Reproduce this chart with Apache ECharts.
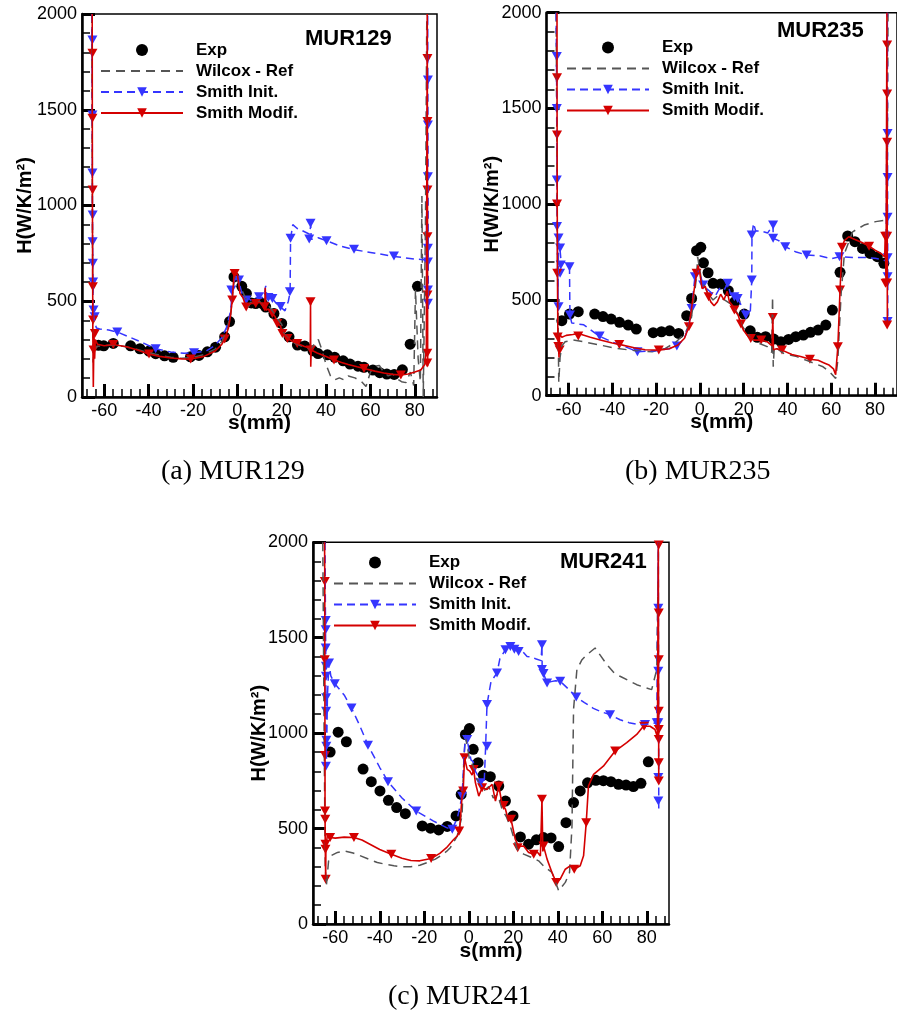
<!DOCTYPE html>
<html><head><meta charset="utf-8">
<script src="https://cdn.jsdelivr.net/npm/echarts@6/dist/echarts.min.js"></script>
<style>html,body{margin:0;padding:0;background:#fff}#c{width:897px;height:1018px}</style>
</head><body><div id="c"></div><script>
// ---------- tick labels ----------
const xMajorTicks = [-60,-40,-20,0,20,40,60,80];
const xMinorTicks = [-68,-64,-60,-56,-52,-48,-44,-40,-36,-32,-28,-24,-20,-16,-12,-8,-4,0,4,8,12,16,20,24,28,32,36,40,44,48,52,56,60,64,68,72,76,80,84,88];
const seriesNames = ['Exp','Wilcox - Ref','Smith Init.','Smith Modif.'];
const panelTitles = ['MUR129','MUR235','MUR241'];
const captions = ['(a) MUR129','(b) MUR235','(c) MUR241'];

// ---------- (a) MUR129 ----------
const a_exp = [[-62.6,270],[-60.2,267],[-55.9,280],[-48.1,267],[-43.9,252],[-39.8,240],[-36.8,226],[-32.8,215],[-28.9,207],[-21.1,210],[-17.3,217],[-13.5,236],[-9.8,260],[-5.7,314],[-3.5,394],[-1.5,627],[2.0,578],[4.1,540],[6.3,491],[8.3,488],[11.3,488],[12.8,470],[16.5,436],[20.0,384],[23.3,314],[27.1,271],[30.4,266],[34.1,241],[36.4,227],[40.6,220],[43.9,207],[47.7,189],[50.8,172],[54.4,161],[57.1,155],[61.1,141],[64.2,127],[67.4,120],[70.7,118],[74.4,142],[77.9,276],[81.2,578]];
const a_wilcox = [[-65.6,2000],[-65.3,900],[-65.0,180],[-64.5,250],[-63,265],[-60,268],[-56,272],[-50,262],[-45,248],[-40,232],[-35,218],[-30,207],[-25,202],[-20,207],[-15,222],[-10,250],[-7,290],[-5,340],[-3,430],[-2,550],[-1,640],[0,630],[1,575],[2,560],[4,510],[5,470],[6,495],[8,490],[10,500],[12,470],[14,480],[16,445],[18,410],[20,380],[21,330],[23,305],[26,280],[30,260],[33,250],[35,280],[36.5,300],[38,250],[40,170],[42,110],[44,90],[46,100],[48,90],[50,110],[53,100],[56,80],[58,55],[60,130],[62,160],[64,165],[66,130],[68,110],[70,120],[72,95],[74,80],[76,75],[78,130],[79.5,60],[80.3,560],[81.5,200],[82.5,80],[83.2,1050],[83.8,0],[84.8,900],[85.4,2000]];
const a_init = [[-65.5,2000],[-65.3,1000],[-65.0,450],[-64.5,400],[-63.5,360],[-62,355],[-58,350],[-54,339],[-48,310],[-42,280],[-37,252],[-30,235],[-24,228],[-19.5,231],[-14,240],[-10,270],[-7,310],[-5,360],[-3,450],[-2.3,549],[-1,618],[0.5,610],[2,545],[3,520],[4.5,523],[6,505],[8,520],[10.5,515],[12,525],[12.8,580],[13.5,505],[15.8,514],[17.5,490],[19.5,470],[21.5,450],[23,500],[23.8,549],[24,826],[25,900],[27,880],[29,870],[32.6,850],[33.1,900],[33.3,823],[36.4,832],[40.6,814],[46,790],[52.6,769],[60,755],[70.7,734],[80,720],[84.2,717],[85.2,700],[85.8,2000],[86.1,460]];
const a_initMarks = [[-65.3,1864],[-65.3,1473],[-65.3,1170],[-65.2,950],[-65.2,811],[-65.1,699],[-65.0,600],[-64.8,454],[-64.3,419],[-54.1,339],[-36.8,252],[-19.5,231],[-2.7,559],[0.75,611],[4,506],[9.8,524],[14,520],[15.8,515],[19.5,472],[23.7,550],[24,829],[33,907],[32.4,825],[40.2,816],[52.6,771],[70.6,736],[85.9,1655],[85.9,1420],[85.9,1150],[85.9,777],[85.9,705],[85.9,559],[85.9,490]];
const a_modif = [[-65.4,2000],[-65.3,1000],[-65.1,300],[-64.9,52],[-64.6,330],[-64.3,200],[-64,300],[-63,275],[-60,268],[-56,274],[-50,262],[-45,245],[-40,225],[-35,212],[-30,204],[-25,199],[-21,198],[-15,212],[-10,240],[-7,275],[-5.7,302],[-4,360],[-3,430],[-2.3,505],[-1.5,635],[0,645],[1.2,540],[2.5,520],[4,470],[5,480],[6.5,490],[8.3,488],[10,495],[11.3,479],[12.3,460],[12.6,570],[12.9,453],[14,460],[15.8,436],[17,420],[18,384],[19.5,370],[20.3,332],[22.6,306],[25,290],[27,280],[30,265],[32.9,255],[33.0,497],[33.1,158],[33.3,245],[36,230],[40,212],[43.6,193],[47,180],[50,170],[54,158],[57.1,149],[62,135],[66,125],[70,118],[73.7,115],[77,120],[80,130],[82.7,141],[84.5,170],[85.2,250],[85.6,2000],[85.8,160]];
const a_modifMarks = [[-65.3,1795],[-65.3,1455],[-65.2,1081],[-65.1,576],[-65.0,402],[-64.8,245],[-64.2,332],[-55.9,274],[-39.8,224],[-21,198],[-5.7,303],[-2.3,506],[-1.2,645],[4,470],[8.3,488],[12.3,471],[15.8,436],[18,384],[20.3,332],[22.6,306],[27,280],[33.0,497],[33.1,245],[43.6,193],[57.1,149],[73.7,115],[85.7,1768],[85.7,1438],[85.7,1081],[85.7,837],[85.7,533],[85.6,229],[85.6,177]];

// ---------- (b) MUR235 ----------
const b_exp = [[-63,392],[-59.5,426],[-55.5,439],[-48,426],[-44.2,413],[-40.5,400],[-36.7,383],[-32.7,369],[-29,348],[-21.3,329],[-17.5,334],[-13.8,339],[-9.7,325],[-6,418],[-3.75,508],[-1.5,757],[0.45,775],[1.65,694],[3.75,642],[6,587],[9.45,583],[13,548],[16,491],[20.25,426],[23,339],[26.25,305],[30,308],[33.75,296],[37,282],[40.5,294],[43.8,308],[47.25,317],[50.5,331],[54,343],[57.5,369],[60.5,447],[64,644],[67.5,834],[70.8,804],[74.25,769],[77.7,743],[81,726],[84,691]];
const b_wilcox = [[-65.6,2000],[-65.0,700],[-64.4,70],[-63.8,200],[-63,260],[-61.5,282],[-57.75,291],[-53.2,282],[-45.75,265],[-38.25,247],[-29.25,235],[-21.75,230],[-15.75,247],[-11.25,277],[-6.75,325],[-4,395],[-3,482],[-1.5,621],[-1,726],[-0.5,690],[0.75,604],[3.75,534],[6,500],[8,520],[11.25,500],[14,480],[17.25,430],[19.5,360],[23.25,299],[26.25,277],[30.75,256],[32.8,225],[33.2,517],[33.5,151],[34,256],[38.25,221],[44.25,204],[50.25,178],[56.25,151],[59.25,125],[62,90],[63,186],[64.5,534],[66,743],[69.75,856],[75,891],[80.25,909],[84.75,917],[85.5,970],[85.9,2000]];
const b_init = [[-65.6,2000],[-65.3,1500],[-65.1,900],[-64.8,470],[-64.5,800],[-63.8,760],[-63.2,682],[-62,700],[-59.5,674],[-59.3,421],[-58.5,380],[-53,370],[-46,312],[-40,280],[-35,260],[-28.5,230],[-20,235],[-14,245],[-10.5,259],[-7,300],[-5,370],[-3.75,456],[-2.25,621],[-1,660],[0,640],[1.5,578],[3,560],[5,540],[7,520],[9,560],[11,550],[12.75,587],[14,530],[15.75,517],[17.25,508],[19,470],[21,421],[23,430],[23.7,604],[23.8,839],[24.5,900],[25.5,860],[28,860],[31,850],[33.4,891],[33.5,822],[36,810],[39,778],[44,750],[48.75,735],[55,730],[60,715],[63.75,726],[70,722],[75,722],[80,718],[85,705],[85.6,2000],[85.8,387]];
const b_initMarks = [[-65.3,1771],[-65.3,1500],[-65.3,1126],[-65.2,883],[-64.5,823],[-63.8,771],[-63.5,682],[-63.8,639],[-64.5,465],[-59.5,674],[-59.3,421],[-45.75,312],[-28.5,230],[-10.5,259],[-3.75,456],[-2.25,621],[1.5,578],[12.75,587],[15.75,517],[17.25,508],[21,421],[23.7,604],[23.7,839],[33.45,891],[33.45,822],[39,778],[48.75,735],[63.75,726],[85.7,1369],[85.7,1140],[85.7,932],[85.7,720],[85.7,621],[85.7,387]];
const b_modif = [[-65.2,2000],[-65.2,1660],[-65.1,1000],[-65,639],[-64.8,307],[-64.5,257],[-64.3,200],[-64,320],[-63,305],[-61,315],[-58,320],[-55.5,325],[-50,305],[-45,290],[-40,275],[-36.75,268],[-30,250],[-25,240],[-18.75,238],[-14,245],[-10,265],[-7,300],[-5,360],[-3.5,480],[-2.5,560],[-1.5,639],[-0.8,680],[0,640],[1,560],[2.5,570],[4,517],[5,490],[6.5,470],[8,490],[9.5,530],[11,500],[12.5,545],[13.5,490],[15,470],[15.75,447],[17.5,420],[18.75,374],[20,340],[22,310],[23.25,299],[25,290],[28,291],[31,280],[33,260],[33.3,409],[33.6,240],[35,245],[37.5,238],[42,215],[46,205],[50.25,190],[54,185],[57,170],[59,160],[61,140],[62,110],[63,256],[64,552],[64.9,775],[66,810],[68,830],[70,820],[74,800],[77.25,781],[80,760],[83,740],[84.4,725],[84.6,832],[85.0,600],[85.4,2000],[85.6,369]];
const b_modifMarks = [[-65.2,1660],[-65.2,1361],[-65.2,1001],[-65.1,639],[-64.9,307],[-64.6,257],[-64,238],[-55.5,312],[-36.75,268],[-18.75,238],[-5,360],[-1.5,639],[4,517],[15.75,447],[18.75,374],[23.25,299],[28,291],[33.3,409],[37.5,238],[50.25,190],[63,256],[64,552],[64.9,775],[77.25,781],[84.6,832],[84.75,587],[85.5,1831],[85.5,1576],[85.5,1324],[85.5,832],[85.5,588],[85.5,369]];

// ---------- (c) MUR241 ----------
const c_exp = [[-62.3,901],[-58.7,1005],[-55,955],[-47.5,812],[-43.8,746],[-39.9,697],[-36.1,648],[-32.4,610],[-28.5,578],[-20.9,514],[-17.2,502],[-13.5,493],[-9.7,511],[-5.7,566],[-3.4,679],[-1.5,993],[0.3,1024],[2,915],[4.2,845],[6.5,780],[9.7,772],[13.5,723],[16.5,644],[19.9,566],[23.2,456],[26.9,418],[30.4,441],[33.6,453],[37,451],[40.4,406],[43.7,531],[47.1,636],[50.1,697],[53.4,740],[57.1,753],[60.5,751],[63.9,746],[67.3,732],[70.7,728],[74,720],[77.4,737],[80.7,850]];
const c_wilcox = [[-65.6,2000],[-65,1000],[-64.5,300],[-64,200],[-63,330],[-62,357],[-59,375],[-56,383],[-52,372],[-48.6,357],[-45,340],[-41.1,322],[-37,312],[-33.6,305],[-30,300],[-26.1,300],[-22,308],[-18.7,322],[-15,340],[-12.7,357],[-10,380],[-8.2,401],[-5.2,461],[-3,566],[-2.2,862],[-1.5,984],[-0.5,920],[0.5,850],[2,830],[3,770],[5,740],[7,700],[9,720],[11,660],[13,680],[15,600],[17,560],[19,500],[21.7,392],[24.7,366],[28,350],[31.4,331],[34,300],[37.4,270],[39,220],[40.4,174],[43.4,218],[45.3,270],[46.4,514],[47.1,1124],[48.6,1333],[50.9,1385],[53,1410],[56.8,1446],[59,1410],[62.1,1359],[65,1320],[68,1298],[72,1275],[75.5,1254],[79,1240],[82.2,1228],[84.5,1333],[85.3,2000]];
const c_init = [[-64.6,2000],[-64.4,1600],[-64.3,1450],[-64.2,1200],[-64.1,900],[-64.0,820],[-63.5,1200],[-62.8,1368],[-62,1300],[-60.2,1259],[-56,1200],[-52.7,1132],[-49,1040],[-45.3,937],[-40,820],[-36.3,746],[-30,660],[-23.6,592],[-16,540],[-10,505],[-7.4,496],[-5,560],[-3,670],[-2,900],[-1.5,990],[-0.7,967],[0,920],[1,860],[2,850],[3,800],[4,780],[5.2,740],[6,720],[7,760],[7.6,932],[8.2,1150],[10,1270],[12.7,1315],[14,1390],[16.5,1437],[18.7,1454],[20.5,1440],[22.4,1428],[24,1430],[26.2,1402],[28,1400],[30,1390],[32.5,1380],[32.9,1463],[33,1333],[33.6,1312],[35.2,1263],[37,1270],[39,1275],[41.1,1272],[44,1240],[48.3,1190],[52,1160],[56,1130],[60,1110],[63.5,1097],[68,1070],[72,1055],[76,1045],[79.2,1045],[84.5,1054],[85.2,2000],[85.4,600]];
const c_initMarks = [[-64.3,1590],[-64.3,1542],[-64.3,1446],[-64.2,1350],[-64.2,1298],[-64.1,1185],[-64.1,1115],[-64,963],[-64,932],[-64.2,827],[-62.8,1368],[-60.2,1259],[-52.7,1132],[-45.3,937],[-36.3,746],[-23.6,592],[-7.4,496],[-3,670],[-0.7,967],[5.2,740],[8.2,932],[8.2,1150],[12.7,1315],[16.5,1437],[18.7,1454],[20.5,1440],[22.4,1428],[32.9,1463],[32.9,1333],[33.6,1312],[35.2,1263],[41.1,1272],[48.3,1190],[63.5,1097],[79.2,1045],[84.5,1054],[85.2,1655],[85.2,1324],[85.2,1054],[85.2,767],[85.2,644]];
const c_modif = [[-64.8,2000],[-64.7,1794],[-64.7,1385],[-64.6,883],[-64.6,592],[-64.5,418],[-64.3,235],[-64.2,400],[-63.5,470],[-62.3,453],[-60,450],[-56,455],[-51.6,453],[-48,440],[-44,415],[-40,390],[-34.8,366],[-30,345],[-26,333],[-22,331],[-16.9,343],[-13,370],[-10,400],[-7,440],[-5.2,461],[-4.2,482],[-3,670],[-2.5,697],[-1.9,871],[-1.5,880],[-0.7,810],[0.45,801],[1.5,780],[2.2,810],[3,740],[4.5,670],[6,714],[8.2,705],[10.5,732],[12,644],[13.5,723],[15,627],[16.5,601],[17.9,540],[19,549],[20.9,444],[22.4,406],[24.7,409],[26.9,375],[29.2,366],[30.7,378],[32.2,357],[32.9,653],[33.3,380],[33.6,409],[35.2,340],[37.4,270],[39.3,218],[41.1,235],[43.4,287],[45.6,305],[47.4,287],[50.1,305],[51.6,357],[52.8,531],[53.8,723],[56.1,784],[60.5,827],[65.8,906],[71,950],[75.5,993],[78.5,1036],[81.5,1036],[83.7,1019],[84.8,980],[85.2,2000],[85.4,740]];
const c_modifMarks = [[-64.7,1794],[-64.7,1385],[-64.6,883],[-64.6,592],[-64.5,549],[-64.4,418],[-64.4,392],[-64.3,235],[-62.3,453],[-51.6,453],[-34.8,366],[-16.9,343],[-4.3,487],[-2.5,697],[-1.9,871],[2.2,810],[6,714],[13.5,723],[15.7,621],[19,549],[22,400],[29.2,366],[32.9,653],[33.6,409],[39.3,218],[47.4,287],[52.8,531],[65.8,906],[78.8,1036],[85.4,1986],[85.4,1629],[85.4,1385],[85.4,1115],[85.4,1019],[85.4,967],[85.4,845],[85.4,749]];

// ---------- build ----------
const FONT = "'Liberation Sans', Arial, Helvetica, sans-serif";
const TRI = 'path://M0,0L10,0L5,9Z';
const RED = '#d40000', BLUE = '#3535ff', GREY = '#555555';

const panelData = [
  [a_exp, a_wilcox, a_init, a_initMarks, a_modif, a_modifMarks],
  [b_exp, b_wilcox, b_init, b_initMarks, b_modif, b_modifMarks],
  [c_exp, c_wilcox, c_init, c_initMarks, c_modif, c_modifMarks]
];
const layout = [
  {left:82, top:14, width:355, height:383, yGap:47, xGap:16, legL:100, legT:41.5, titL:305, titT:28, capL:161, capT:458},
  {left:546.5, top:12.7, width:355.5, height:383, yGap:44.5, xGap:16, legL:566, legT:39, titL:777, titT:20, capL:625, capT:458},
  {left:313, top:542.3, width:356, height:381.7, yGap:44, xGap:17, legL:333, legT:554, titL:560, titT:551, capL:388, capT:983}
];

const grid = [], xAxis = [], yAxis = [], series = [], legend = [], title = [];
layout.forEach((p, i) => {
  grid.push({left:p.left, top:p.top, width:p.width, height:p.height, show:true, borderColor:'#000', borderWidth:1.5, backgroundColor:'transparent'});
  xAxis.push({type:'value', gridIndex:i, min:-70, max:90, position:'bottom',
    name:'s(mm)', nameLocation:'middle', nameGap:p.xGap, nameMoveOverlap:false,
    nameTextStyle:{fontFamily:FONT, fontWeight:'bold', fontSize:21, color:'#000'},
    axisLine:{show:true, onZero:false, lineStyle:{color:'#000', width:2.5}},
    axisTick:{show:true, inside:true, length:13, customValues:xMajorTicks, lineStyle:{color:'#000', width:3}},
    axisLabel:{show:true, customValues:xMajorTicks, margin:5, fontFamily:FONT, fontSize:18, color:'#000', formatter:v => String(v)},
    splitLine:{show:false}});
  xAxis.push({type:'value', gridIndex:i, min:-70, max:90, position:'bottom',
    axisLine:{show:false, onZero:false},
    axisTick:{show:true, inside:true, length:8, customValues:xMinorTicks, lineStyle:{color:'#000', width:1.5}},
    axisLabel:{show:false}, splitLine:{show:false}});
  yAxis.push({type:'value', gridIndex:i, min:0, max:2000, interval:500,
    name:'H(W/K/m²)', nameLocation:'middle', nameGap:p.yGap, nameRotate:90, nameMoveOverlap:false,
    nameTextStyle:{fontFamily:FONT, fontWeight:'bold', fontSize:20, color:'#000'},
    axisLine:{show:true, onZero:false, lineStyle:{color:'#000', width:2.5}},
    axisTick:{show:true, inside:true, length:13, lineStyle:{color:'#000', width:3}},
    minorTick:{show:true, splitNumber:5, length:8, lineStyle:{color:'#000', width:1.5}},
    axisLabel:{margin:5, fontFamily:FONT, fontSize:18, color:'#000', formatter:v => String(v)},
    splitLine:{show:false}, minorSplitLine:{show:false}});

  const d = panelData[i];
  const xi = 2*i, yi = i;
  series.push({type:'scatter', name:seriesNames[0], xAxisIndex:xi, yAxisIndex:yi, data:d[0],
    symbol:'circle', symbolSize:11, itemStyle:{color:'#000', opacity:1}, silent:true});
  series.push({type:'line', name:seriesNames[1], xAxisIndex:xi, yAxisIndex:yi, data:d[1],
    showSymbol:false, symbol:'circle', lineStyle:{color:GREY, width:1.5, type:[9,6]}, itemStyle:{color:GREY}, silent:true});
  series.push({type:'line', name:seriesNames[2], xAxisIndex:xi, yAxisIndex:yi, data:d[2],
    showSymbol:false, symbol:TRI, symbolSize:[10,9], lineStyle:{color:BLUE, width:1.5, type:[8,5]}, itemStyle:{color:BLUE, opacity:1}, silent:true});
  series.push({type:'scatter', name:seriesNames[2], xAxisIndex:xi, yAxisIndex:yi, data:d[3],
    symbol:TRI, symbolSize:[10,9], itemStyle:{color:BLUE, opacity:1}, silent:true});
  series.push({type:'line', name:seriesNames[3], xAxisIndex:xi, yAxisIndex:yi, data:d[4],
    showSymbol:false, symbol:TRI, symbolSize:[10,9], lineStyle:{color:RED, width:1.6}, itemStyle:{color:RED, opacity:1}, silent:true});
  series.push({type:'scatter', name:seriesNames[3], xAxisIndex:xi, yAxisIndex:yi, data:d[5],
    symbol:TRI, symbolSize:[10,9], itemStyle:{color:RED, opacity:1}, silent:true});

  legend.push({left:p.legL, top:p.legT, orient:'vertical', padding:0, itemGap:4, itemWidth:82, itemHeight:12,
    selectedMode:false,
    data:[{name:seriesNames[0]}, {name:seriesNames[1], itemStyle:{color:'rgba(0,0,0,0)', borderWidth:0}}, {name:seriesNames[2]}, {name:seriesNames[3]}],
    textStyle:{fontFamily:FONT, fontWeight:'bold', fontSize:17, lineHeight:17, color:'#000', padding:[0,0,0,8]}});
  title.push({text:panelTitles[i], left:p.titL, top:p.titT, padding:0,
    textStyle:{fontFamily:FONT, fontWeight:'bold', fontSize:22, color:'#000'}});
  title.push({text:captions[i], left:p.capL, top:p.capT, padding:0,
    textStyle:{fontFamily:"'Liberation Serif', 'Times New Roman', serif", fontWeight:'normal', fontSize:28, color:'#000'}});
});

const chart = echarts.init(document.getElementById('c'), null, {renderer:'canvas'});
chart.setOption({animation:false, backgroundColor:'#fff', grid, xAxis, yAxis, series, legend, title, tooltip:{show:false}});
</script></body></html>
